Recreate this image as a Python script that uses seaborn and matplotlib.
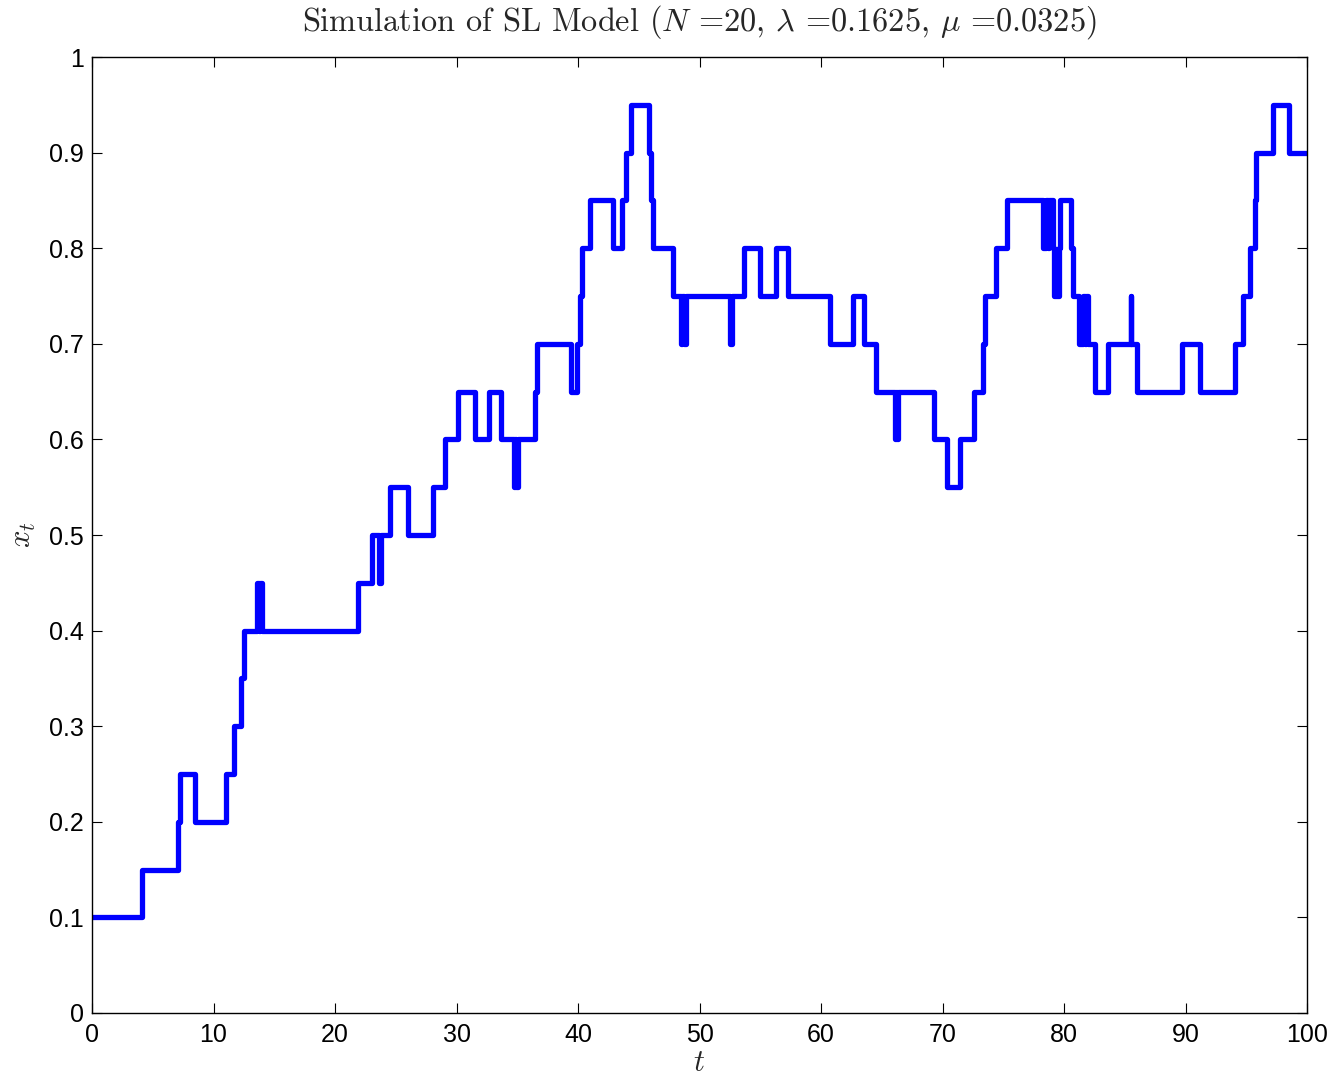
import matplotlib
matplotlib.use("Agg")
import matplotlib.pyplot as plt
import seaborn as sns
import pandas as pd

# jump times and the level reached at each jump (starts at t=0 with 0.10)
jump_times = [0, 4.1, 7.1, 7.25, 8.5, 11.0, 11.7, 12.3, 12.55, 13.6, 13.75, 13.8, 14.0,
              21.9, 23.05, 23.6, 23.75, 24.5, 26.0, 28.1, 29.05, 30.15, 31.5, 32.7, 33.7,
              34.7, 34.8, 34.9, 35.05, 36.5, 36.6, 39.4, 39.95, 40.15, 40.3, 41.0, 42.9,
              43.6, 43.95, 44.35, 45.85, 46.0, 46.15, 47.8, 48.5, 48.6, 48.7, 48.9, 52.5,
              52.65, 53.65, 55.0, 56.3, 57.3, 60.75, 62.65, 63.5, 64.5, 66.1, 66.2, 66.25,
              66.35, 69.3, 70.35, 71.45, 72.6, 73.3, 73.5, 74.4, 75.3, 78.3, 78.5, 78.65,
              78.8, 79.1, 79.2, 79.6, 79.7, 80.55, 80.7, 81.2, 81.6, 81.75, 81.85, 81.95,
              82.55, 83.65, 85.5, 85.55, 86.0, 89.75, 91.2, 94.1, 94.7, 95.3, 95.7, 95.8,
              97.2, 98.55, 100.0]
levels = [0.10, 0.15, 0.20, 0.25, 0.20, 0.25, 0.30, 0.35, 0.40, 0.45, 0.40, 0.45, 0.40,
          0.45, 0.50, 0.45, 0.50, 0.55, 0.50, 0.55, 0.60, 0.65, 0.60, 0.65, 0.60,
          0.55, 0.60, 0.55, 0.60, 0.65, 0.70, 0.65, 0.70, 0.75, 0.80, 0.85, 0.80,
          0.85, 0.90, 0.95, 0.90, 0.85, 0.80, 0.75, 0.70, 0.75, 0.70, 0.75, 0.70,
          0.75, 0.80, 0.75, 0.80, 0.75, 0.70, 0.75, 0.70, 0.65, 0.60, 0.65, 0.60,
          0.65, 0.60, 0.55, 0.60, 0.65, 0.70, 0.75, 0.80, 0.85, 0.80, 0.85, 0.80,
          0.85, 0.80, 0.75, 0.80, 0.85, 0.80, 0.75, 0.70, 0.75, 0.70, 0.75, 0.70,
          0.65, 0.70, 0.75, 0.70, 0.65, 0.70, 0.65, 0.70, 0.75, 0.80, 0.85, 0.90,
          0.95, 0.90, 0.90]

x_ticks = [0, 10, 20, 30, 40, 50, 60, 70, 80, 90, 100]
y_ticks = [0, 0.1, 0.2, 0.3, 0.4, 0.5, 0.6, 0.7, 0.8, 0.9, 1]
y_tick_labels = ["0", "0.1", "0.2", "0.3", "0.4", "0.5", "0.6", "0.7", "0.8", "0.9", "1"]

title = r"Simulation of SL Model ($N$ =20, $\lambda$ =0.1625, $\mu$ =0.0325)"

sns.set_theme(style="ticks")
plt.rcParams["font.family"] = ["Liberation Sans", "DejaVu Sans"]
plt.rcParams["mathtext.fontset"] = "cm"
plt.rcParams["axes.linewidth"] = 1.0

df = pd.DataFrame({"t": jump_times, "x": levels})

fig = plt.figure(figsize=(13.36, 10.81), dpi=100)
ax = fig.add_axes([92 / 1336, 1 - 1013 / 1081, (1307 - 92) / 1336, (1013 - 57) / 1081])

sns.lineplot(data=df, x="t", y="x", ax=ax, drawstyle="steps-post", estimator=None,
             sort=False, color=(0, 0, 1), linewidth=3.8)

ax.set_xlim(0, 100)
ax.set_ylim(0, 1)
ax.set_xticks(x_ticks)
ax.set_xticklabels([str(v) for v in x_ticks])
ax.set_yticks(y_ticks)
ax.set_yticklabels(y_tick_labels)
for s in ax.spines.values():
    s.set_visible(True)
    s.set_color("black")
ax.tick_params(direction="in", length=7.5, width=0.8, labelsize=18, colors="black",
               top=True, right=True)
ax.tick_params(axis="x", pad=7)
ax.tick_params(axis="y", pad=6)

ax.set_xlabel(r"$t$", fontsize=22, labelpad=1)
ax.set_ylabel(r"$x_t$", fontsize=22, labelpad=8)
ax.set_title(title, fontsize=23.3, family="cmr10", pad=19)

fig.savefig("out.png", dpi=100)
